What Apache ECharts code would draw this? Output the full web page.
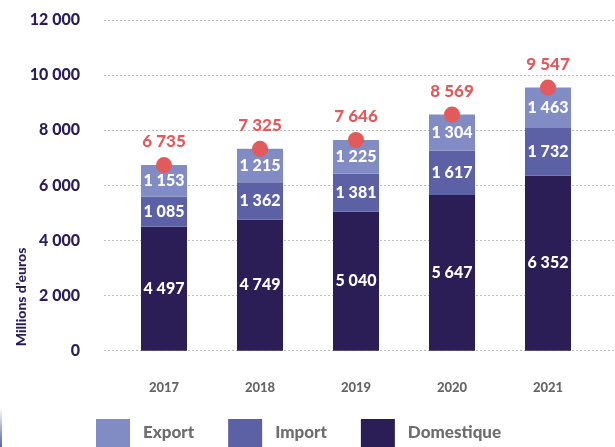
<!DOCTYPE html>
<html>
<head>
<meta charset="utf-8">
<script src="https://cdn.jsdelivr.net/npm/echarts@6/dist/echarts.min.js"></script>
<style>
  html, body { margin: 0; padding: 0; background: #fff; }
  #chart { width: 615px; height: 447px; }
</style>
</head>
<body>
<div id="chart"></div>
<script>
// Chiffre d'affaires par marché (millions d'euros)
const years = ['2017', '2018', '2019', '2020', '2021'];
const domestique = [4497, 4749, 5040, 5647, 6352];
const importVals = [1085, 1362, 1381, 1617, 1732];
const exportVals = [1153, 1215, 1225, 1304, 1463];
const totals = [6735, 7325, 7646, 8569, 9547];
const yTicks = [0, 2000, 4000, 6000, 8000, 10000, 12000];

const FONT = 'Lato, "Open Sans", sans-serif';
const HEAVY = 900;
const NAVY = '#2b1d56';
const C_EXPORT = '#818bc4';
const C_IMPORT = '#5c60a4';
const C_DOM = '#2b1d56';
const RED = '#e25a5c';

function fmt(v) {
  return String(v).replace(/\B(?=(\d{3})+(?!\d))/g, ' ');
}

const yMin = yTicks[0];
const yMax = yTicks[yTicks.length - 1];
const yStep = yTicks[1] - yTicks[0];

const segLabel = {
  show: true,
  position: 'inside',
  color: '#fff',
  fontFamily: FONT,
  fontWeight: HEAVY,
  fontSize: 16,
  formatter: p => fmt(p.value)
};

const chart = echarts.init(document.getElementById('chart'), null, { renderer: 'canvas' });

chart.setOption({
  animation: false,
  backgroundColor: '#fff',
  grid: [
    { left: 116, right: 19, top: 20, bottom: 96.3 },
    { left: 104, right: 0, top: 20, bottom: 96.3 }
  ],
  xAxis: [
    {
      type: 'category',
      data: years,
      gridIndex: 0,
      axisLine: { show: false },
      axisTick: { show: false },
      axisLabel: {
        margin: 31,
        color: '#666',
        fontFamily: FONT,
        fontWeight: HEAVY,
        fontSize: 13
      }
    },
    { type: 'value', gridIndex: 1, show: false, min: 0, max: 1 }
  ],
  yAxis: [
    {
      type: 'value',
      gridIndex: 0,
      min: yMin, max: yMax, interval: yStep,
      axisLine: { show: false },
      axisTick: { show: false },
      axisLabel: { show: false },
      splitLine: { show: false }
    },
    {
      type: 'value',
      gridIndex: 1,
      min: yMin, max: yMax, interval: yStep,
      axisLine: { show: false },
      axisTick: { show: false },
      axisLabel: {
        margin: 24,
        color: NAVY,
        fontFamily: FONT,
        fontWeight: HEAVY,
        fontSize: 16,
        formatter: v => fmt(v)
      },
      splitLine: { show: true, lineStyle: { color: '#bdbdbd', type: [2, 2], width: 1 } }
    }
  ],
  legend: {
    top: 419,
    left: 96,
    padding: 0,
    itemWidth: 34,
    itemHeight: 28,
    itemGap: 34,
    icon: 'rect',
    textStyle: {
      color: '#6d6d6d',
      fontFamily: FONT,
      fontWeight: HEAVY,
      fontSize: 17,
      padding: [0, 0, 0, 8]
    },
    data: ['Export', 'Import', 'Domestique']
  },
  series: [
    {
      name: 'Domestique', type: 'bar', stack: 'ca', data: domestique,
      barWidth: 46, itemStyle: { color: C_DOM }, label: segLabel,
      xAxisIndex: 0, yAxisIndex: 0
    },
    {
      name: 'Import', type: 'bar', stack: 'ca', data: importVals,
      barWidth: 46, itemStyle: { color: C_IMPORT }, label: segLabel,
      xAxisIndex: 0, yAxisIndex: 0
    },
    {
      name: 'Export', type: 'bar', stack: 'ca', data: exportVals,
      barWidth: 46, itemStyle: { color: C_EXPORT }, label: segLabel,
      xAxisIndex: 0, yAxisIndex: 0
    },
    {
      name: 'Total', type: 'scatter', data: totals,
      symbol: 'circle', symbolSize: 16,
      itemStyle: { color: RED, opacity: 1 },
      label: {
        show: true,
        position: 'top',
        distance: 7,
        color: RED,
        opacity: 1,
        fontFamily: FONT,
        fontWeight: HEAVY,
        fontSize: 17,
        formatter: p => fmt(p.value)
      },
      xAxisIndex: 0, yAxisIndex: 0, z: 5
    }
  ],
  graphic: [
    {
      type: 'text',
      x: 21, y: 297,
      rotation: Math.PI / 2,
      style: {
        text: "Millions d\u2019euros",
        fill: NAVY,
        font: HEAVY + ' 14px ' + FONT,
        textAlign: 'center',
        textVerticalAlign: 'middle'
      }
    },
    {
      type: 'rect',
      shape: { x: 0, y: 408, width: 2, height: 39 },
      style: {
        fill: new echarts.graphic.LinearGradient(0, 0, 0, 1, [
          { offset: 0, color: 'rgba(92,96,164,0)' },
          { offset: 1, color: '#5c60a4' }
        ])
      }
    }
  ]
});
</script>
</body>
</html>
